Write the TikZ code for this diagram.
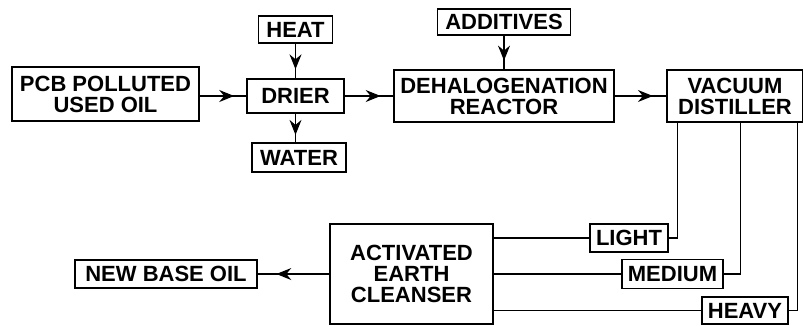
\documentclass[tikz,border=0pt]{standalone}
\usepackage{fontspec}
\setmainfont{Liberation Sans}
\usepackage{tikz}
\usetikzlibrary{arrows.meta, positioning, calc, decorations.markings}
\tikzset{every node/.style={font=\fontsize{22}{21}\selectfont\bfseries}}

\begin{document}
\begin{tikzpicture}[x=1pt, y=-1pt, line width=1.3pt,
    unitbox/.style={draw, align=center, inner sep=0pt},
    flowline/.style={postaction={decorate}, decoration={markings, mark=at position 0.74 with {\arrow{Stealth[length=15pt, width=12pt, inset=5pt]}}}}]
  \useasboundingbox (0,0) rectangle (803,325);
  \node[unitbox, minimum width=187pt, minimum height=54pt] (pcb) at (105.5,94) {PCB POLLUTED\\USED OIL};
  \node[unitbox, minimum width=97pt, minimum height=34pt] (drier) at (295.5,96) {DRIER};
  \node[unitbox, minimum width=74pt, minimum height=27pt] (heat) at (295.5,29.5) {HEAT};
  \node[unitbox, minimum width=94pt, minimum height=29pt] (water) at (299,157.5) {WATER};
  \node[unitbox, minimum width=133pt, minimum height=26pt] (additives) at (504,22) {ADDITIVES};
  \node[unitbox, minimum width=220pt, minimum height=52pt] (reactor) at (504,96) {DEHALOGENATION\\REACTOR};
  \node[unitbox, minimum width=136pt, minimum height=52pt] (vac) at (735,96) {VACUUM\\DISTILLER};
  \node[unitbox, minimum width=163pt, minimum height=100pt] (cleanser) at (411.5,274) {ACTIVATED\\EARTH\\CLEANSER};
  \node[unitbox, minimum width=182pt, minimum height=28pt] (newoil) at (166,274) {NEW BASE OIL};
  \node[unitbox, minimum width=78pt, minimum height=28pt] (light) at (629,238) {LIGHT};
  \node[unitbox, minimum width=101pt, minimum height=29pt] (medium) at (672.5,274) {MEDIUM};
  \node[unitbox, minimum width=86pt, minimum height=27pt] (heavy) at (745,310.5) {HEAVY};

  \draw[flowline] (pcb.east |- drier.west) -- (drier.west);
  \draw[flowline] (heat.south) -- (drier.north);
  \draw[flowline] (drier.south) -- (drier.south |- water.north);
  \draw[flowline] (drier.east) -- (reactor.west);
  \draw[flowline] (additives.south) -- (reactor.north);
  \draw[flowline] (reactor.east) -- (vac.west);
  \draw[flowline] (cleanser.west) -- (newoil.east);

  \draw (cleanser.east |- light.west) -- (light.west);
  \draw (light.east) -| ([xshift=11pt]vac.south west);
  \draw (cleanser.east |- medium.west) -- (medium.west);
  \draw (medium.east) -| ([xshift=74pt]vac.south west);
  \draw (cleanser.east |- heavy.west) -- (heavy.west);
  \draw (heavy.east) -| ([xshift=131pt]vac.south west);
\end{tikzpicture}
\end{document}
